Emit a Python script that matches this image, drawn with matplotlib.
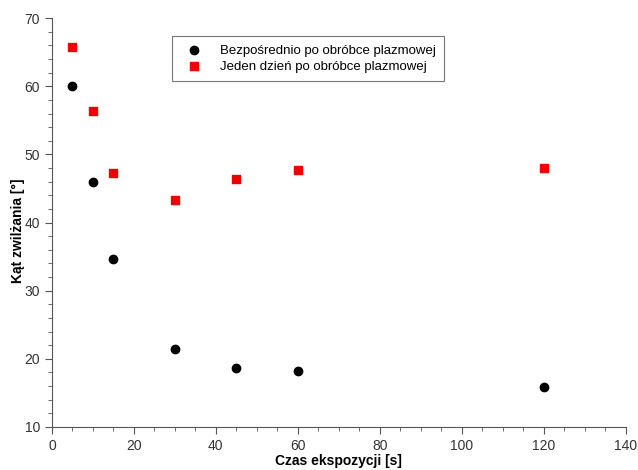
import matplotlib
matplotlib.use("Agg")
import matplotlib.pyplot as plt
from matplotlib.ticker import MultipleLocator

time_s = [5, 10, 15, 30, 45, 60, 120]
direct = [60.0, 46.0, 34.7, 21.5, 18.6, 18.2, 15.9]
one_day = [65.7, 56.4, 47.3, 43.3, 46.4, 47.7, 48.0]

plt.rcParams['font.family'] = ['Liberation Sans', 'DejaVu Sans']

fig = plt.figure(figsize=(6.38, 4.70), dpi=100)
ax = fig.add_axes([0.0815, 0.0915, 0.899, 0.870])

ax.scatter(time_s, direct, s=36, marker='o', color='black', label='Bezpośrednio po obróbce plazmowej', zorder=3)
ax.scatter(time_s, one_day, s=36, marker='s', color='#ee0000', label='Jeden dzień po obróbce plazmowej', zorder=3)

ax.set_xlim(0, 140)
ax.set_ylim(10, 70)
ax.xaxis.set_major_locator(MultipleLocator(20))
ax.xaxis.set_minor_locator(MultipleLocator(5))
ax.yaxis.set_major_locator(MultipleLocator(10))
ax.yaxis.set_minor_locator(MultipleLocator(2))
ax.spines['top'].set_visible(False)
ax.spines['right'].set_visible(False)
for s in ['left', 'bottom']:
    ax.spines[s].set_color('#555555')
ax.tick_params(which='major', direction='out', length=5, color='#555555', labelsize=10, labelcolor='#333333')
ax.tick_params(which='minor', direction='out', length=3, color='#555555')

ax.set_xlabel('Czas ekspozycji [s]', fontsize=10, fontweight='bold', labelpad=1)
ax.set_ylabel('Kąt zwilżania [°]', fontsize=10, fontweight='bold', va='center')
ax.yaxis.set_label_coords(-0.059, 0.48)

leg = ax.legend(loc='upper left', bbox_to_anchor=(0.21, 0.955), fontsize=9.5, frameon=True,
                fancybox=False, edgecolor='#555555', handletextpad=1.0, borderpad=0.6,
                labelspacing=0.3, borderaxespad=0)
leg.get_frame().set_linewidth(0.8)

fig.savefig('out.png', dpi=100)
